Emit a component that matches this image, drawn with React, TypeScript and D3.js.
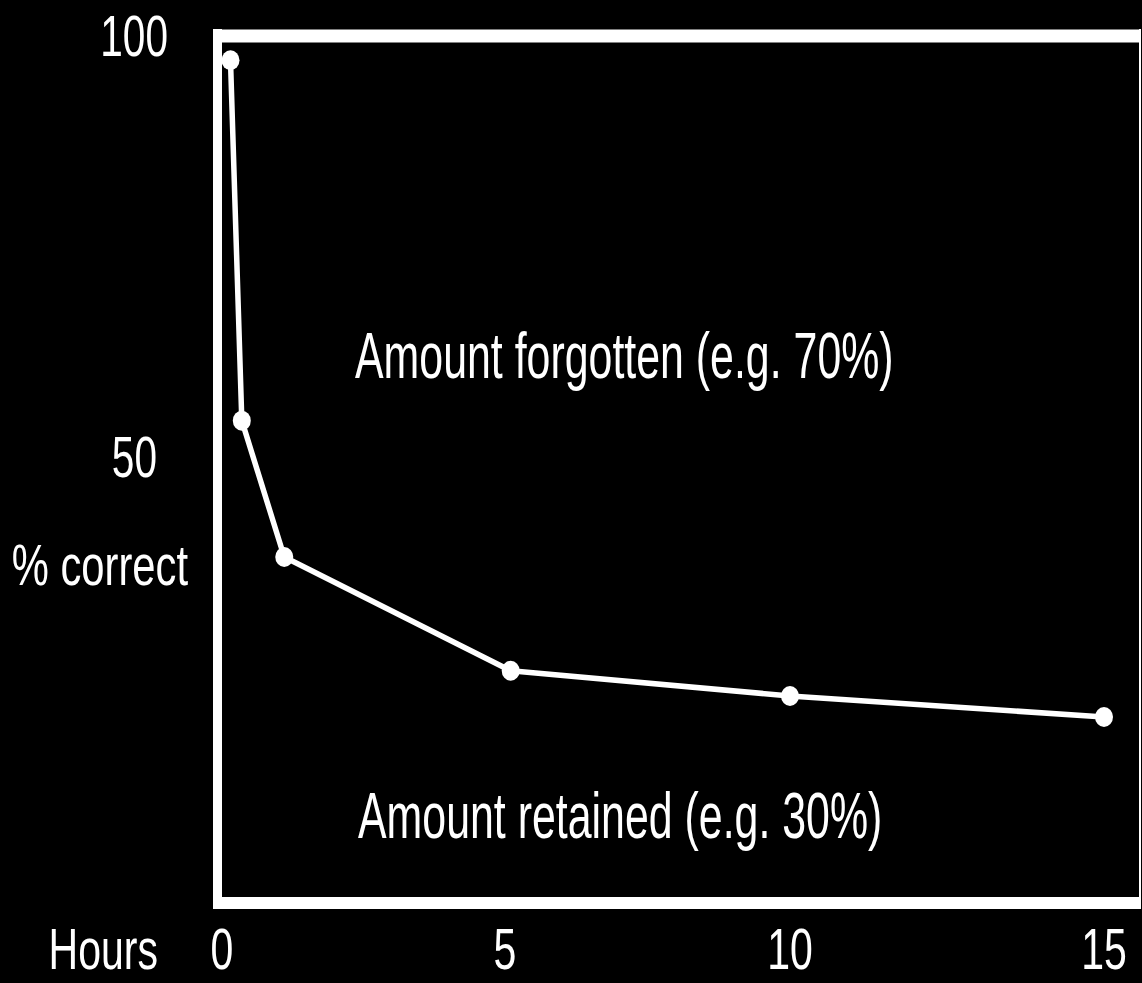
import { useEffect } from "react"
import * as d3 from "d3"

// Retention curve
const hours = [0.15, 0.35, 1.1, 5.1, 10.0, 15.0]
const percentCorrect = [97, 54.2, 38, 24.5, 21.5, 19]
const xTicks = [0, 5, 10, 15]
const yTicks = [100, 50]
const yTitle = "% correct"
const xTitle = "Hours"
const forgottenLabel = "Amount forgotten (e.g. 70%)"
const retainedLabel = "Amount retained (e.g. 30%)"

const W = 1142
const H = 983
const FONT = "'Liberation Sans', Arial, sans-serif"

// the original uses a condensed grotesque; squeeze Liberation Sans horizontally
function CondText({
  x,
  y,
  size,
  squeeze,
  anchor = "start",
  children,
}: {
  x: number
  y: number
  size: number
  squeeze: number
  anchor?: "start" | "middle" | "end"
  children: React.ReactNode
}) {
  return (
    <text
      transform={`translate(${x},${y}) scale(${squeeze},1)`}
      fill="#fff"
      fontFamily={FONT}
      fontSize={size}
      textAnchor={anchor}
    >
      {children}
    </text>
  )
}

export default function App() {
  useEffect(() => {
    document.body.style.margin = "0"
    document.body.style.background = "#000"
  }, [])

  // hand-drawn axis is not evenly spaced, so use a piecewise scale
  const x = d3.scaleLinear().domain(xTicks).range([222, 505, 790, 1104])
  const y = d3.scaleLinear().domain([0, 100]).range([877, 35])

  const points = hours.map((h, i) => [x(h), y(percentCorrect[i])] as [number, number])
  const line = d3.line()(points) ?? ""

  return (
    <svg width={W} height={H} style={{ display: "block", background: "#000" }}>
      <rect x={0} y={0} width={W} height={H} fill="#000" />

      {/* frame */}
      <line x1={217.5} y1={29} x2={217.5} y2={909} stroke="#fff" strokeWidth={9} />
      <line x1={213} y1={36} x2={1141} y2={36} stroke="#fff" strokeWidth={13} />
      <line x1={213} y1={903} x2={1141} y2={903} stroke="#fff" strokeWidth={12} />
      <line x1={1140} y1={29} x2={1140} y2={909} stroke="#fff" strokeWidth={2} />

      {/* curve */}
      <path d={line} fill="none" stroke="#fff" strokeWidth={5.5} strokeLinejoin="round" />
      {points.map(([px, py], i) => (
        <ellipse key={i} cx={px} cy={py} rx={9} ry={10} fill="#fff" />
      ))}

      {/* y labels */}
      {yTicks.map((t) => (
        <CondText
          key={t}
          x={t === 100 ? 168 : 157}
          y={y(t) + 21}
          size={58}
          squeeze={0.7}
          anchor="end"
        >
          {t}
        </CondText>
      ))}
      <CondText x={188} y={585} size={58} squeeze={0.72} anchor="end">
        {yTitle}
      </CondText>

      {/* x labels */}
      {xTicks.map((t) => (
        <CondText key={t} x={x(t)} y={969} size={57} squeeze={0.72} anchor="middle">
          {t}
        </CondText>
      ))}
      <CondText x={158} y={969} size={57} squeeze={0.72} anchor="end">
        {xTitle}
      </CondText>

      {/* annotations */}
      <CondText x={355} y={378} size={64} squeeze={0.67}>
        {forgottenLabel}
      </CondText>
      <CondText x={358} y={838} size={64} squeeze={0.67}>
        {retainedLabel}
      </CondText>
    </svg>
  )
}
